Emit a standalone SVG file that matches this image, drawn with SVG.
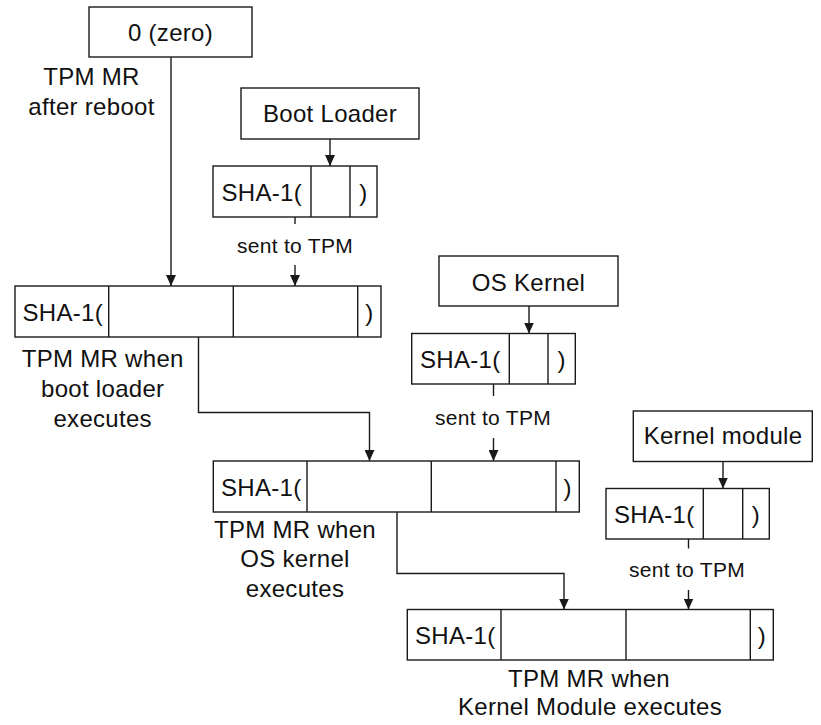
<svg xmlns="http://www.w3.org/2000/svg" width="821" height="725" viewBox="0 0 821 725">
<style>
  .box { fill: #ffffff; stroke: #1a1a1a; stroke-width: 1.4; }
  .div { stroke: #1a1a1a; stroke-width: 1.4; }
  .t { font-family: "Liberation Sans", Arial, sans-serif; font-size: 24px; fill: #111; letter-spacing: 0.3px; }
  .m { text-anchor: middle; }
  .s { font-family: "Liberation Sans", Arial, sans-serif; font-size: 21px; fill: #111; text-anchor: middle; letter-spacing: 0.3px; }
  .ln { fill: none; stroke: #1a1a1a; stroke-width: 1.4; }
  .ar { fill: none; stroke: #1a1a1a; stroke-width: 1.4; marker-end: url(#ah); }
</style>
<defs>
  <marker id="ah" viewBox="0 0 11 10" refX="11" refY="5" markerWidth="11" markerHeight="10" markerUnits="userSpaceOnUse" orient="auto">
    <path d="M0,0 L11,5 L0,10 Z" fill="#1a1a1a"/>
  </marker>
</defs>
<rect width="821" height="725" fill="#ffffff"/>

<g id="connectors">
  <line class="ar" x1="171" y1="57" x2="171" y2="286"/>
  <line class="ar" x1="330" y1="139" x2="330" y2="166"/>
  <line class="ln" x1="295" y1="217" x2="295" y2="224"/>
  <text class="s" x="295" y="253">sent to TPM</text>
  <line class="ar" x1="295" y1="265" x2="295" y2="286"/>
  <path class="ar" d="M198.5,337 V412.5 H369.5 V461"/>
  <line class="ar" x1="529" y1="306" x2="529" y2="333.5"/>
  <line class="ln" x1="493.5" y1="384" x2="493.5" y2="396"/>
  <text class="s" x="493" y="425">sent to TPM</text>
  <line class="ar" x1="493.5" y1="438" x2="493.5" y2="461"/>
  <path class="ar" d="M397,512 V573.5 H564 V609.5"/>
  <line class="ar" x1="723" y1="461.5" x2="723" y2="488.5"/>
  <line class="ln" x1="688.5" y1="539" x2="688.5" y2="548.5"/>
  <text class="s" x="687" y="577">sent to TPM</text>
  <line class="ar" x1="688.5" y1="590" x2="688.5" y2="609.5"/>
</g>

<g id="zero">
  <rect class="box" x="89" y="7" width="163" height="50"/>
  <text class="t m" x="170.5" y="41">0 (zero)</text>
</g>
<g id="label-reboot">
  <text class="t m" x="91.5" y="85">TPM MR</text>
  <text class="t m" x="91.5" y="114.5">after reboot</text>
</g>

<g id="boot-loader">
  <rect class="box" x="241" y="88" width="178" height="51"/>
  <text class="t m" x="330" y="122">Boot Loader</text>
</g>
<g id="sha-boot-loader">
  <rect class="box" x="213" y="166" width="164" height="51"/>
  <line class="div" x1="311" y1="166" x2="311" y2="217"/>
  <line class="div" x1="350" y1="166" x2="350" y2="217"/>
  <text class="t" x="221.5" y="200.5">SHA-1(</text>
  <text class="t m" x="363.5" y="200.5">)</text>
</g>

<g id="mr-boot-loader">
  <rect class="box" x="15" y="286" width="366" height="51"/>
  <line class="div" x1="108.7" y1="286" x2="108.7" y2="337"/>
  <line class="div" x1="233.3" y1="286" x2="233.3" y2="337"/>
  <line class="div" x1="357.7" y1="286" x2="357.7" y2="337"/>
  <text class="t" x="22.5" y="320.5">SHA-1(</text>
  <text class="t m" x="369.3" y="320.5">)</text>
  <text class="t m" x="102.7" y="366.7">TPM MR when</text>
  <text class="t m" x="102.7" y="396.7">boot loader</text>
  <text class="t m" x="102.7" y="426.7">executes</text>
</g>

<g id="os-kernel">
  <rect class="box" x="439" y="256" width="179" height="50"/>
  <text class="t m" x="528.5" y="290.5">OS Kernel</text>
</g>
<g id="sha-os-kernel">
  <rect class="box" x="411.7" y="333.5" width="163.6" height="50.5"/>
  <line class="div" x1="509.3" y1="333.5" x2="509.3" y2="384"/>
  <line class="div" x1="548" y1="333.5" x2="548" y2="384"/>
  <text class="t" x="420" y="368">SHA-1(</text>
  <text class="t m" x="561.6" y="368">)</text>
</g>

<g id="mr-os-kernel">
  <rect class="box" x="213.3" y="461" width="366" height="51"/>
  <line class="div" x1="307" y1="461" x2="307" y2="512"/>
  <line class="div" x1="431.3" y1="461" x2="431.3" y2="512"/>
  <line class="div" x1="556" y1="461" x2="556" y2="512"/>
  <text class="t" x="221" y="495.5">SHA-1(</text>
  <text class="t m" x="567.7" y="495.5">)</text>
  <text class="t m" x="295" y="538">TPM MR when</text>
  <text class="t m" x="295" y="567">OS kernel</text>
  <text class="t m" x="295" y="597">executes</text>
</g>

<g id="kernel-module">
  <rect class="box" x="633.3" y="411" width="179" height="50.5"/>
  <text class="t m" x="723" y="443.5">Kernel module</text>
</g>
<g id="sha-kernel-module">
  <rect class="box" x="606" y="488.5" width="163.3" height="50.5"/>
  <line class="div" x1="703.3" y1="488.5" x2="703.3" y2="539"/>
  <line class="div" x1="742.7" y1="488.5" x2="742.7" y2="539"/>
  <text class="t" x="614" y="523">SHA-1(</text>
  <text class="t m" x="756" y="523">)</text>
</g>

<g id="mr-kernel-module">
  <rect class="box" x="407.3" y="609.5" width="366" height="50.5"/>
  <line class="div" x1="501" y1="609.5" x2="501" y2="660"/>
  <line class="div" x1="626" y1="609.5" x2="626" y2="660"/>
  <line class="div" x1="750.3" y1="609.5" x2="750.3" y2="660"/>
  <text class="t" x="415" y="643.5">SHA-1(</text>
  <text class="t m" x="761.8" y="643.5">)</text>
  <text class="t m" x="589" y="686.7">TPM MR when</text>
  <text class="t m" x="590" y="715">Kernel Module executes</text>
</g>
</svg>
